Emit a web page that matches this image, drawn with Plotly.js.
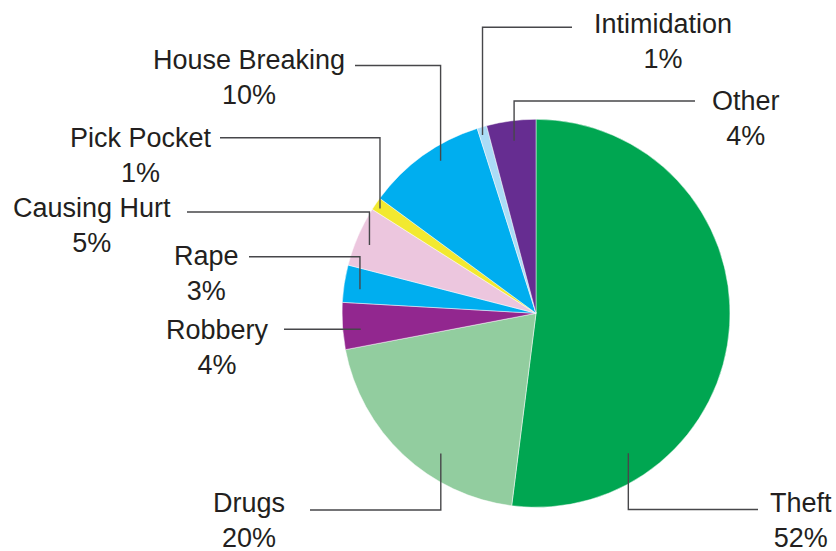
<!DOCTYPE html>
<html>
<head>
<meta charset="utf-8">
<script src="https://cdn.plot.ly/plotly-3.0.1.min.js"></script>
<style>
  html, body { margin: 0; padding: 0; background: #ffffff; }
  #chart { width: 836px; height: 551px; }
</style>
</head>
<body>
<div id="chart"></div>
<script>
// ---- data ----
const categories = ["Theft", "Drugs", "Robbery", "Rape", "Causing Hurt", "Pick Pocket", "House Breaking", "Intimidation", "Other"];
const shares = [52, 20, 3.9, 3.1, 5, 1.1, 10, 0.8, 4.1];
const sliceColors = ["#00a651", "#92cd9f", "#92278f", "#00aeef", "#ecc6de", "#f2e930", "#00aeef", "#abdcf6", "#662d91"];

// ---- leader-line / label placement (layout, in px of the 836x551 page) ----
const leaderFrac = [0.783, 0.375, 0.40, 0.41, 0.44, 0.38, 0.60, 0.33, 0.51]; // position within slice
const leaderRad  = [0.864, 0.873, 0.907, 0.916, 0.928, 0.969, 0.927, 0.96, 0.897]; // fraction of radius
const leaderY    = [509.5, 510, null, 256.7, 212, 137.7, 65.5, 27.3, 101];
const leaderEndX = [758, 310, 284, 249, 187, 220, 355, 572, 695];
const labelX     = [801, 249, 218, 206, 92, 141, 249, 663, 746];
const labelY     = [520, 520, 347.5, 273, 225.5, 155.5, 77.5, 41.5, 118.5];

const W = 836, H = 551;
const CX = 536, CY = 313.3, R = 194;

const px = x => x / W;
const py = y => 1 - y / H;

const total = shares.reduce((a, b) => a + b, 0);
const shapes = [];
const annotations = [];
let cum = 0;
shares.forEach((v, i) => {
  const th = (cum + leaderFrac[i] * v) / total * 2 * Math.PI;
  const sx = CX + leaderRad[i] * R * Math.sin(th);
  const sy = CY - leaderRad[i] * R * Math.cos(th);
  const ey = leaderY[i] === null ? sy : leaderY[i];
  shapes.push({
    type: 'path', xref: 'paper', yref: 'paper',
    path: `M ${px(sx)},${py(sy)} L ${px(sx)},${py(ey)} L ${px(leaderEndX[i])},${py(ey)}`,
    line: { color: '#47474a', width: 1.4 }
  });
  annotations.push({
    xref: 'paper', yref: 'paper', x: px(labelX[i]), y: py(labelY[i]),
    xanchor: 'center', yanchor: 'middle', showarrow: false,
    text: `${categories[i]}<br>${Math.round(v)}%`,
    font: { family: 'Liberation Sans, Arial, sans-serif', size: 27, color: '#231f20' },
    align: 'center'
  });
  cum += v;
});

const trace = {
  type: 'pie',
  labels: categories,
  values: shares,
  sort: false,
  direction: 'clockwise',
  rotation: 0,
  textinfo: 'none',
  hoverinfo: 'none',
  showlegend: false,
  marker: { colors: sliceColors, line: { color: 'rgba(255,255,255,0.6)', width: 0.8 } },
  domain: { x: [px(CX - R), px(CX + R)], y: [py(CY + R), py(CY - R)] }
};

Plotly.newPlot('chart', [trace], {
  width: W, height: H,
  margin: { l: 0, r: 0, t: 0, b: 0 },
  paper_bgcolor: '#ffffff',
  showlegend: false,
  shapes: shapes,
  annotations: annotations
}, { staticPlot: true, displayModeBar: false });
</script>
</body>
</html>
